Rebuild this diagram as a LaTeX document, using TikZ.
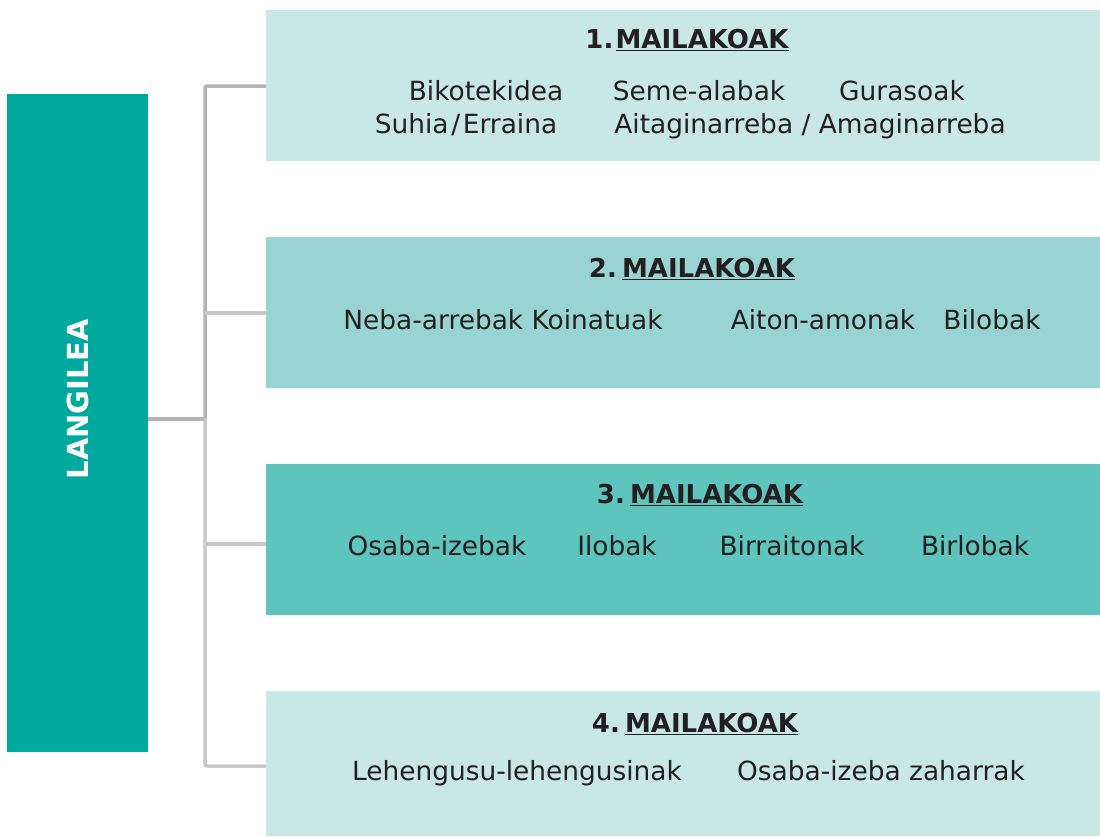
\documentclass[tikz,border=0pt]{standalone}
\usepackage{fontspec}
\setmainfont{DejaVu Sans}
\definecolor{teal}{HTML}{00A99D}
\definecolor{lvlone}{HTML}{C8E8E5}
\definecolor{lvltwo}{HTML}{98D5D2}
\definecolor{lvlthree}{HTML}{5DC4BE}
\definecolor{txt}{HTML}{231F20}
\definecolor{lineA}{HTML}{B4B4B5}
\definecolor{lineB}{HTML}{C8C8C9}
\tikzset{
  x=1pt,y=1pt,
  lvlbox/.style={draw=none,minimum width=834pt,minimum height=151pt,inner sep=0pt},
  ttl/.style={anchor=base,text=txt,font=\fontsize{26}{30}\selectfont\bfseries,inner sep=0pt},
  itm/.style={anchor=base,text=txt,font=\fontsize{#1}{30}\selectfont,inner sep=0pt},
  itm/.default=26.4,
  conn/.style={line width=3.5pt,rounded corners=2pt},
}
\begin{document}
\begin{tikzpicture}
\useasboundingbox (0,0) rectangle (1100,-836);
% left box
\node[fill=teal,minimum width=141pt,minimum height=658pt,inner sep=0pt] (L) at (77.5,-423) {};
\node[rotate=90,text=white,font=\fontsize{29}{33}\selectfont\bfseries,inner sep=0pt] (Ltext) at (78,-399) {LANGILEA};
% level boxes
\node[lvlbox,fill=lvlone] (b1) at (683,-85.5) {};
\node[lvlbox,fill=lvltwo] (b2) at (683,-312.5) {};
\node[lvlbox,fill=lvlthree] (b3) at (683,-539.5) {};
\node[lvlbox,fill=lvlone,minimum height=145pt] (b4) at (683,-763.5) {};
% connectors
\coordinate (t1) at (205,-86);
\coordinate (j) at (205,-419);
\coordinate (t2) at (205,-313);
\coordinate (t3) at (205,-544);
\coordinate (t4) at (205,-766);
\draw[conn,lineA] (b1.west |- t1) -- (t1) -- (j);
\draw[conn,lineA] (L.east |- j) -- (j);
\draw[conn,lineB] (j) -- (t4) -- (b4.west |- t4);
\draw[conn,lineB] (t2) -- (b2.west |- t2);
\draw[conn,lineB] (t3) -- (b3.west |- t3);
% level 1
\node[ttl] (h1) at (687,-48) {1.\hspace{0.08em}\underline{MAILAKOAK}};
\node[itm] (i11) at (486,-100) {Bikotekidea};
\node[itm] (i12) at (699,-100) {Seme-alabak};
\node[itm] (i13) at (902,-100) {Gurasoak};
\node[itm] (i14) at (466,-133) {Suhia\hspace{0.1em}/\hspace{0.1em}Erraina};
\node[itm] (i15) at (810,-133) {Aitaginarreba / Amaginarreba};
% level 2
\node[ttl] (h2) at (692,-277) {2.\hspace{0.2em}\underline{MAILAKOAK}};
\node[itm] (i21) at (503,-329) {Neba-arrebak Koinatuak};
\node[itm] (i22) at (823,-329) {Aiton-amonak};
\node[itm] (i23) at (992,-329) {Bilobak};
% level 3
\node[ttl] (h3) at (700,-503) {3.\hspace{0.2em}\underline{MAILAKOAK}};
\node[itm] (i31) at (437,-555) {Osaba-izebak};
\node[itm] (i32) at (617,-555) {Ilobak};
\node[itm] (i33) at (792,-555) {Birraitonak};
\node[itm] (i34) at (975,-555) {Birlobak};
% level 4
\node[ttl] (h4) at (695,-732) {4.\hspace{0.2em}\underline{MAILAKOAK}};
\node[itm] (i41) at (517,-780) {Lehengusu-lehengusinak};
\node[itm] (i42) at (881,-780) {Osaba-izeba zaharrak};
\end{tikzpicture}
\end{document}
